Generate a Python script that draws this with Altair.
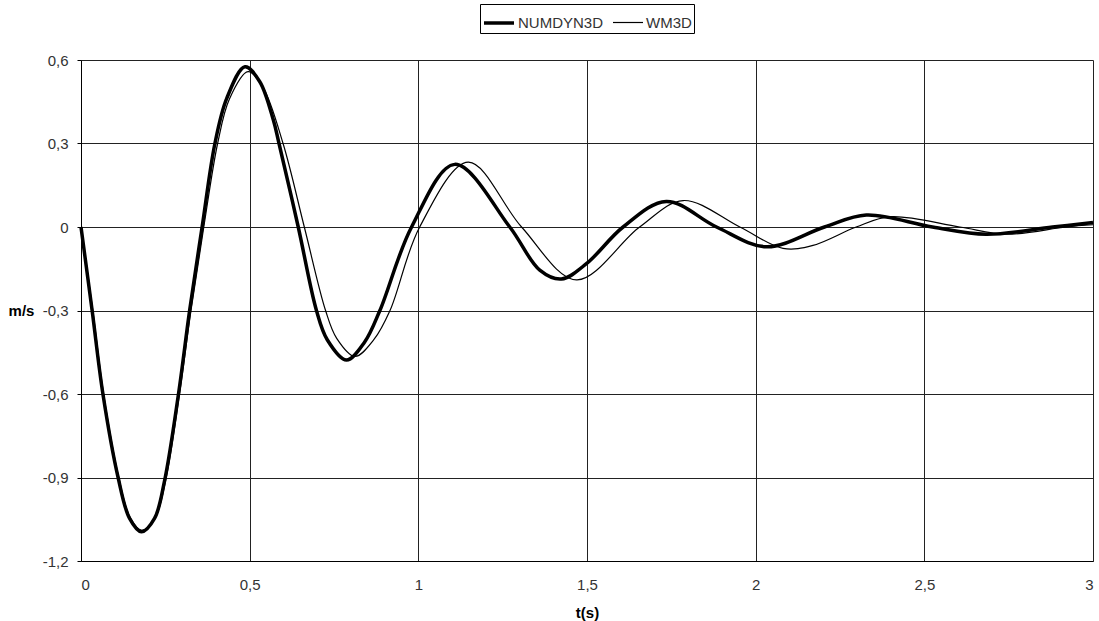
import altair as alt
import pandas as pd

# NUMDYN3D (thick line) - time (s) and velocity (m/s)
t_num = [0.00, 0.033, 0.065, 0.110, 0.144, 0.179, 0.218, 0.248, 0.289, 0.322,
         0.359, 0.397, 0.432, 0.486, 0.530, 0.570, 0.587, 0.644, 0.698, 0.730,
         0.787, 0.840, 0.886, 0.980, 1.108, 1.271, 1.360, 1.424, 1.500, 1.607,
         1.735, 1.884, 2.032, 2.204, 2.328, 2.524, 2.683, 2.880, 3.000]
v_num = [0.000, -0.300, -0.600, -0.900, -1.047, -1.095, -1.047, -0.910, -0.600, -0.300,
         0.000, 0.300, 0.462, 0.576, 0.522, 0.385, 0.300, 0.000, -0.300, -0.405,
         -0.478, -0.415, -0.300, 0.000, 0.225, 0.000, -0.155, -0.187, -0.130, 0.000,
         0.092, 0.000, -0.071, 0.000, 0.043, 0.000, -0.026, 0.000, 0.016]

# WM3D (thin line)
t_wm = [0.00, 0.035, 0.067, 0.112, 0.146, 0.181, 0.220, 0.251, 0.292, 0.326,
        0.364, 0.405, 0.440, 0.495, 0.540, 0.599, 0.662, 0.725, 0.758, 0.812,
        0.868, 0.916, 1.004, 1.148, 1.306, 1.469, 1.656, 1.785, 1.953, 2.081,
        2.170, 2.298, 2.400, 2.605, 2.743, 2.920, 3.000]
v_wm = [0.000, -0.300, -0.600, -0.900, -1.045, -1.090, -1.045, -0.910, -0.600, -0.300,
        0.000, 0.300, 0.460, 0.558, 0.500, 0.300, 0.000, -0.300, -0.400, -0.465,
        -0.405, -0.300, 0.000, 0.233, 0.000, -0.190, 0.000, 0.095, 0.000, -0.077,
        -0.066, 0.000, 0.037, 0.000, -0.026, 0.000, 0.008]

series = ["NUMDYN3D", "WM3D"]
x_ticks = [0, 0.5, 1, 1.5, 2, 2.5, 3]
y_ticks = [-1.2, -0.9, -0.6, -0.3, 0, 0.3, 0.6]

df = pd.concat([
    pd.DataFrame({"t": t_num, "v": v_num, "series": series[0], "order": range(len(t_num))}),
    pd.DataFrame({"t": t_wm, "v": v_wm, "series": series[1], "order": range(len(t_wm))}),
])

FONT = "Liberation Sans, Arial, sans-serif"

chart = alt.Chart(df).mark_line(color="black", interpolate="catmull-rom").encode(
    x=alt.X("t:Q",
            scale=alt.Scale(domain=[0, 3], nice=False, zero=False),
            axis=alt.Axis(values=x_ticks, title="t(s)", grid=True, ticks=False,
                          labelExpr="replace(format(datum.value, '~g'), '.', ',')",
                          labelPadding=16, titleY=51, titleBaseline="middle")),
    y=alt.Y("v:Q",
            scale=alt.Scale(domain=[-1.2, 0.6], nice=False, zero=False),
            axis=alt.Axis(values=y_ticks, title="m/s", grid=True, tickSize=4,
                          labelPadding=9,
                          labelExpr="datum.value == 0 ? '0' : replace(replace(format(datum.value, '.1f'), '.', ','), '\u2212', '-')",
                          titleAngle=0, titleX=-60, titleY=250,
                          titleAlign="center", titleBaseline="middle")),
    strokeWidth=alt.StrokeWidth("series:N",
                                scale=alt.Scale(domain=series, range=[3.5, 1.2]),
                                legend=alt.Legend(title=None, orient="none",
                                                  legendX=399, legendY=-56,
                                                  direction="horizontal",
                                                  symbolType="stroke",
                                                  symbolSize=900,
                                                  symbolStrokeColor="black",
                                                  labelFontSize=15,
                                                  labelFont=FONT,
                                                  labelColor="#333333",
                                                  labelOffset=2,
                                                  columnPadding=6,
                                                  padding=2,
                                                  strokeColor="black",
                                                  fillColor="white")),
    order="order:Q",
    detail="series:N",
).properties(
    width=1012,
    height=501,
    background="white",
    autosize=alt.AutoSizeParams(type="none"),
    padding={"left": 81, "top": 60, "right": 6, "bottom": 60},
).configure_view(
    stroke=None
).configure_axis(
    domainColor="black",
    domainWidth=1,
    gridColor="#222222",
    gridWidth=1,
    gridOpacity=1,
    tickColor="black",
    labelFont=FONT,
    labelFontSize=15,
    labelColor="#333333",
    titleFont=FONT,
    titleFontSize=15,
    titleFontWeight="bold",
    titleColor="black",
)

chart.save("out.html", embed_options={"renderer": "svg", "actions": False})
